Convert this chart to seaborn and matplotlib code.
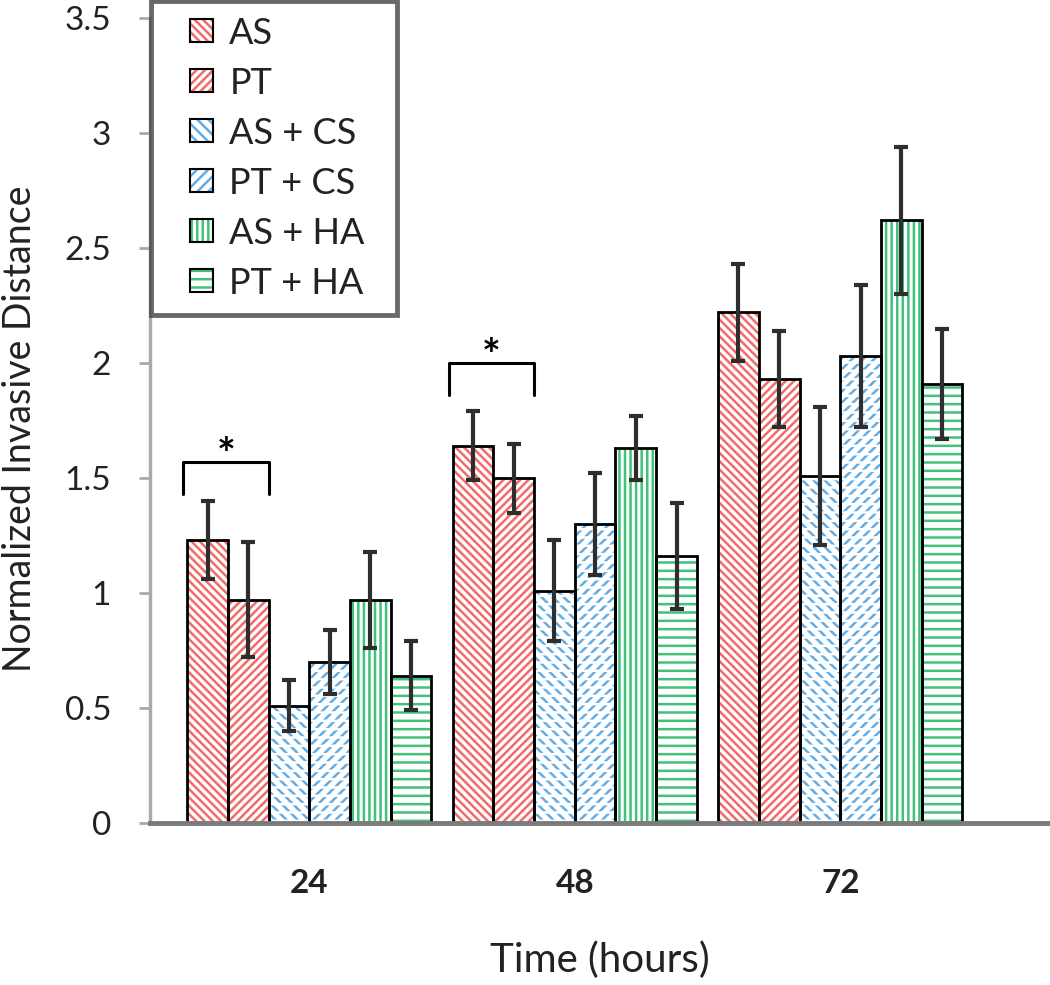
import numpy as np
import pandas as pd
import matplotlib
matplotlib.use("Agg")
import matplotlib.pyplot as plt
from matplotlib.patches import Patch, Rectangle
from matplotlib.legend_handler import HandlerPatch
import seaborn as sns

times = ["24", "48", "72"]
groups = ["AS", "PT", "AS + CS", "PT + CS", "AS + HA", "PT + HA"]
means = {
    "AS":      [1.23, 1.64, 2.22],
    "PT":      [0.97, 1.50, 1.93],
    "AS + CS": [0.51, 1.01, 1.51],
    "PT + CS": [0.70, 1.30, 2.03],
    "AS + HA": [0.97, 1.63, 2.62],
    "PT + HA": [0.64, 1.16, 1.91],
}
errs = {
    "AS":      [0.17, 0.15, 0.21],
    "PT":      [0.25, 0.15, 0.21],
    "AS + CS": [0.11, 0.22, 0.30],
    "PT + CS": [0.14, 0.22, 0.31],
    "AS + HA": [0.21, 0.14, 0.32],
    "PT + HA": [0.15, 0.23, 0.24],
}
# significance brackets: (time index, first group, second group, bracket base)
sig_pairs = [(0, "AS", "PT", 1.43), (1, "AS", "PT", 1.86)]

colors = ["#f26a6a", "#f26a6a", "#62ade6", "#62ade6", "#3fc27a", "#3fc27a"]
hatches = ["\\\\\\\\", "////", "\\\\\\", "///", "|||", "--"]
dashed = ["AS + CS", "PT + CS"]   # blue hatch broken into short dashes

rows = []
for g in groups:
    for i, t in enumerate(times):
        rows.append({"Time": t, "Group": g, "Value": means[g][i]})
df = pd.DataFrame(rows)

sns.set_style("white")
plt.rcParams["font.family"] = ["Lato", "DejaVu Sans"]
plt.rcParams["hatch.linewidth"] = 1.8

fig = plt.figure(figsize=(10.5, 9.85), dpi=100)
ax = fig.add_axes([150 / 1050, 1 - 823 / 985, 900 / 1050, (823 - 18) / 985])
n = len(times)
bar_kw = dict(data=df, x="Time", y="Value", hue="Group", order=times, hue_order=groups,
              errorbar=None, width=0.92, gap=0, legend=False, ax=ax)

# hatched fill layer
sns.barplot(palette=colors, linewidth=0, **bar_kw)
fill_patches = list(ax.patches)
for k, p in enumerate(fill_patches):
    gi = k // n
    p.set_facecolor("white")
    p.set_edgecolor(colors[gi])
    p.set_hatch(hatches[gi])
    p.set_linewidth(0)

# white horizontal hatch cutting the blue diagonals into dashes
sns.barplot(palette=["white"] * len(groups), fill=False, linewidth=0, **bar_kw)
cut_patches = list(ax.patches)[len(fill_patches):]
for k, p in enumerate(cut_patches):
    if groups[k // n] in dashed:
        p.set_hatch("--")
        p.set_linewidth(0)
    else:
        p.set_visible(False)

# black outlines on top
sns.barplot(palette=["black"] * len(groups), fill=False, linewidth=2.0, **bar_kw)

# error bars centred on the bars seaborn drew
for k, p in enumerate(fill_patches):
    gi, ti = k // n, k % n
    g = groups[gi]
    ax.errorbar(p.get_x() + p.get_width() / 2, means[g][ti], yerr=errs[g][ti],
                fmt="none", ecolor="#2e2e2e", elinewidth=3, capsize=5, capthick=3, zorder=5)

# significance brackets
for ti, g1, g2, yb in sig_pairs:
    p1 = fill_patches[groups.index(g1) * n + ti]
    p2 = fill_patches[groups.index(g2) * n + ti]
    x1 = p1.get_x() - 0.015
    x2 = p2.get_x() + p2.get_width()
    yt = yb + 0.14
    ax.plot([x1, x1, x2, x2], [yb, yt, yt, yb], color="black", lw=2.2, zorder=6)
    ax.text((x1 + x2) / 2, yt - 0.03, "*", ha="center", va="baseline", fontsize=32,
            fontweight="bold", color="black")

ax.set_ylim(0, 3.5)
ax.set_xlim(-0.6, 2.79)
ax.set_yticks(np.arange(0, 3.51, 0.5))
ax.set_yticklabels(["0", "0.5", "1", "1.5", "2", "2.5", "3", "3.5"])
ax.tick_params(axis="y", labelsize=24, length=8, width=2, color="#aaaaaa", left=True, pad=20,
               labelcolor="#222222")
ax.tick_params(axis="x", labelsize=24, length=0, pad=33, labelcolor="#222222")
for lab in ax.get_xticklabels():
    lab.set_fontweight("bold")
ax.set_xlabel("Time (hours)", fontsize=29, color="#222222")
ax.set_ylabel("Normalized Invasive Distance", fontsize=27, color="#222222")
ax.xaxis.set_label_coords(0.5, -0.147)
ax.yaxis.set_label_coords(-0.124, 0.49)

sns.despine(ax=ax)
ax.spines["left"].set_color("#aaaaaa")
ax.spines["left"].set_linewidth(2.5)
ax.spines["bottom"].set_color("#7a7a7a")
ax.spines["bottom"].set_linewidth(3.5)


def right_square(legend, orig_handle, xdescent, ydescent, width, height, fontsize):
    return Rectangle(xy=(-xdescent + width - height, -ydescent), width=height, height=height)


handles = [(Patch(facecolor="white", edgecolor=c, hatch=h, linewidth=0),
            Patch(fill=False, edgecolor="black", linewidth=1.5))
           for c, h in zip(colors, hatches)]
leg = ax.legend(handles, groups, loc="upper left",
                bbox_to_anchor=(151 / 1050, 1 - 11 / 985, 246 / 1050, 0.01),
                bbox_transform=fig.transFigure, mode="expand", borderaxespad=0, fontsize=26,
                frameon=True, fancybox=False, handlelength=1.29, handleheight=0.6,
                handletextpad=0.45, labelspacing=0.47, borderpad=0.43, edgecolor="#444444",
                handler_map={Patch: HandlerPatch(patch_func=right_square)})
leg.get_frame().set_linewidth(3.5)
leg.set_zorder(10)
for t in leg.get_texts():
    t.set_color("#222222")

fig.savefig("out.png", dpi=100)
